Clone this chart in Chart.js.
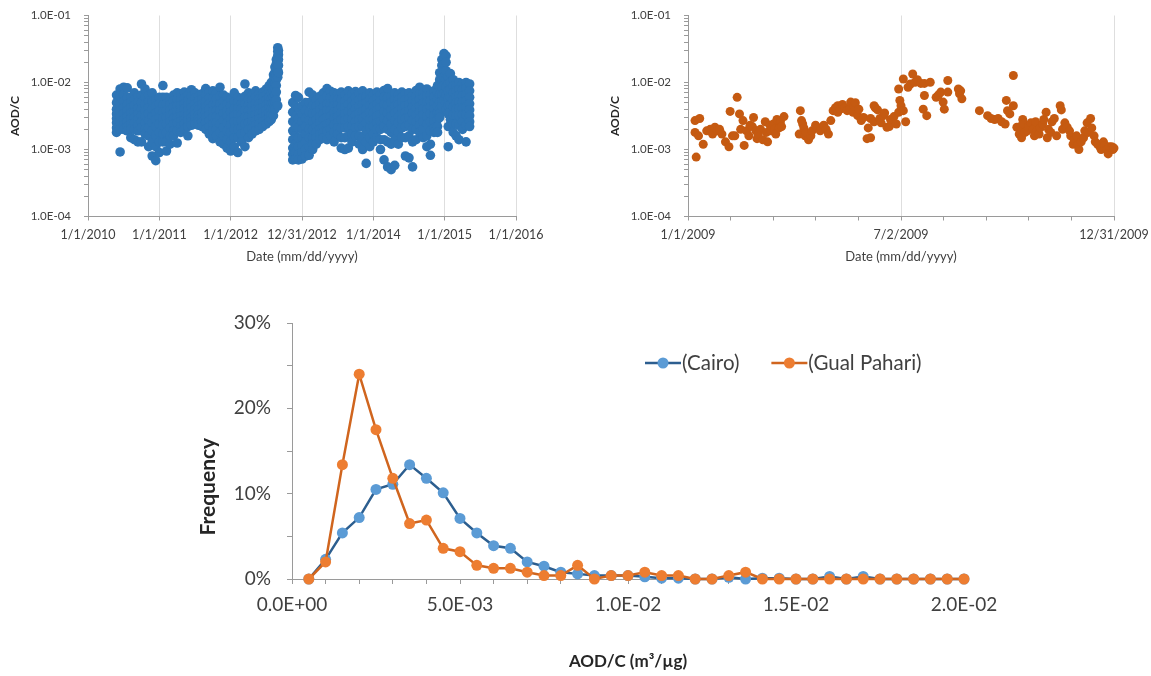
<!DOCTYPE html>
<html lang="en">
<head>
<meta charset="UTF-8">
<title>AOD/C</title>
<script src="https://cdn.jsdelivr.net/npm/chart.js"></script>
<style>
  body { margin: 0; background: #fff; width: 1151px; height: 676px; overflow: hidden; position: relative; }
  canvas { position: absolute; }
</style>
</head>
<body>
<canvas id="cairo_scatter" width="560" height="270" style="left:0;top:0;width:560px;height:270px"></canvas>
<canvas id="gual_scatter" width="551" height="270" style="left:600px;top:0;width:551px;height:270px"></canvas>
<canvas id="freq_chart" width="820" height="376" style="left:180px;top:300px;width:820px;height:376px"></canvas>

<script>
// ---- data ----
// Cairo: decimal year, and AOD/C values (units of 1e-3) observed around that date
const cairoDates = [
  2010.40, 2010.45, 2010.50, 2010.55, 2010.60, 2010.65, 2010.70, 2010.75, 2010.80, 2010.85,
  2010.90, 2010.95, 2011.00, 2011.05, 2011.10, 2011.15, 2011.20, 2011.25, 2011.30, 2011.35,
  2011.40, 2011.45, 2011.50, 2011.55, 2011.60, 2011.65, 2011.70, 2011.75, 2011.80, 2011.85,
  2011.90, 2011.95, 2012.00, 2012.05, 2012.10, 2012.15, 2012.20, 2012.25, 2012.30, 2012.35,
  2012.40, 2012.45, 2012.50, 2012.54, 2012.57, 2012.60, 2012.62, 2012.64, 2012.66, 2012.67,
  2012.87, 2012.91, 2012.95, 2013.00, 2013.05, 2013.10, 2013.15, 2013.20, 2013.25, 2013.30,
  2013.35, 2013.40, 2013.45, 2013.50, 2013.55, 2013.60, 2013.65, 2013.70, 2013.75, 2013.80,
  2013.85, 2013.90, 2013.95, 2014.00, 2014.05, 2014.10, 2014.15, 2014.20, 2014.25, 2014.30,
  2014.35, 2014.40, 2014.45, 2014.50, 2014.55, 2014.60, 2014.65, 2014.70, 2014.75, 2014.80,
  2014.85, 2014.90, 2014.93, 2014.96, 2014.99, 2015.02, 2015.05, 2015.08, 2015.12, 2015.16,
  2015.20, 2015.25, 2015.30, 2015.35
];
const cairoAOD = [
  [6.5, 5.0, 4.0, 3.4, 2.9, 2.5, 2.1, 1.8], [8.0, 6.2, 4.8, 3.8, 3.1, 2.6, 2.0, 0.92],
  [8.5, 6.6, 5.2, 4.2, 3.4, 2.8, 2.3, 2.0], [8.3, 6.0, 4.7, 3.8, 3.1, 2.6, 2.2, 1.9],
  [6.0, 5.0, 4.2, 3.5, 2.9, 2.4, 2.0, 1.5], [7.0, 5.6, 4.5, 3.6, 3.0, 2.5, 2.0, 1.4],
  [6.2, 5.0, 4.1, 3.4, 2.8, 2.3, 1.9, 1.3], [9.5, 6.5, 5.0, 4.0, 3.2, 2.6, 2.1, 1.3],
  [8.0, 6.0, 4.7, 3.8, 3.1, 2.5, 2.0, 1.7], [6.5, 5.2, 4.2, 3.4, 2.7, 2.1, 1.6, 1.1],
  [7.0, 5.2, 4.0, 3.1, 2.5, 1.9, 1.3, 0.8], [5.5, 4.4, 3.5, 2.8, 2.2, 1.6, 1.1, 0.68],
  [6.0, 4.8, 3.8, 3.0, 2.4, 1.8, 1.3, 0.9], [9.0, 6.0, 4.6, 3.6, 2.9, 2.3, 1.7, 1.3],
  [6.0, 4.8, 3.8, 3.0, 2.4, 1.8, 1.3, 0.95], [5.5, 4.7, 3.9, 3.2, 2.6, 2.1, 1.6, 1.2],
  [6.5, 5.3, 4.3, 3.5, 2.9, 2.4, 1.9, 1.6], [7.0, 5.6, 4.5, 3.7, 3.0, 2.5, 1.9, 1.25],
  [6.8, 5.5, 4.5, 3.7, 3.1, 2.6, 2.2, 1.8], [7.2, 5.8, 4.8, 4.0, 3.3, 2.8, 2.4, 2.0],
  [6.5, 5.4, 4.5, 3.8, 3.2, 2.7, 2.2, 1.6], [7.8, 6.2, 5.1, 4.2, 3.5, 3.0, 2.6, 2.3],
  [7.0, 5.8, 4.8, 4.0, 3.4, 2.9, 2.6, 2.4], [6.2, 5.3, 4.5, 3.9, 3.3, 2.9, 2.6, 2.3],
  [6.8, 5.7, 4.8, 4.1, 3.5, 3.0, 2.6, 2.2], [8.1, 6.4, 5.2, 4.3, 3.6, 3.0, 2.5, 2.0],
  [7.2, 5.9, 4.8, 4.0, 3.3, 2.7, 2.2, 1.7], [7.5, 5.8, 4.6, 3.7, 3.0, 2.4, 1.9, 1.45],
  [7.0, 5.7, 4.6, 3.8, 3.1, 2.5, 2.0, 1.6], [8.5, 6.2, 4.8, 3.8, 3.0, 2.4, 1.8, 1.3],
  [6.5, 5.2, 4.2, 3.4, 2.7, 2.1, 1.6, 1.2], [6.0, 4.8, 3.8, 3.1, 2.5, 1.9, 1.4, 1.05],
  [5.5, 4.5, 3.6, 2.9, 2.3, 1.8, 1.3, 0.95], [7.0, 5.2, 4.1, 3.2, 2.6, 2.0, 1.5, 1.1],
  [6.0, 5.0, 4.1, 3.3, 2.6, 2.0, 1.5, 0.9], [5.8, 4.8, 4.0, 3.3, 2.7, 2.1, 1.7, 1.3],
  [9.5, 6.2, 4.8, 3.8, 3.0, 2.4, 1.8, 1.1], [7.0, 5.6, 4.6, 3.8, 3.1, 2.5, 2.0, 1.5],
  [6.5, 5.4, 4.5, 3.7, 3.1, 2.6, 2.1, 1.7], [7.5, 6.0, 4.9, 4.0, 3.3, 2.7, 2.3, 1.9],
  [6.8, 5.7, 4.8, 4.0, 3.4, 2.9, 2.4, 2.0], [7.2, 6.0, 5.0, 4.2, 3.6, 3.0, 2.6, 2.2],
  [8.0, 6.6, 5.5, 4.6, 3.9, 3.3, 2.8, 2.4], [9.0, 7.4, 6.1, 5.0, 4.2, 3.5, 3.0, 2.6],
  [10, 8.4, 7.0, 5.8, 4.8, 4.0, 3.3, 2.8], [13, 11, 9.0, 7.4, 6.0, 4.9, 4.0, 3.2],
  [17, 14, 12, 9.8, 8.0, 6.5, 5.2, 4.0], [22, 19, 16, 13, 11, 9.0, 7.2, 5.5],
  [33, 29, 25, 21, 18, 15, 12, 4.5], [30, 26, 22, 18, 14],
  [5.0, 3.6, 2.6, 1.9, 1.4, 1.05, 0.85, 0.7], [6.4, 4.4, 3.1, 2.2, 1.6, 1.2, 0.9, 0.72],
  [6.0, 4.2, 2.9, 2.1, 1.5, 1.1, 0.85, 0.7], [4.5, 3.4, 2.6, 2.0, 1.5, 1.15, 0.9, 0.72],
  [5.0, 3.8, 2.9, 2.2, 1.7, 1.3, 1.0, 0.8], [7.2, 5.0, 3.6, 2.7, 2.0, 1.5, 1.1, 0.82],
  [6.5, 4.6, 3.4, 2.6, 2.0, 1.5, 1.2, 1.0], [5.5, 4.4, 3.5, 2.8, 2.2, 1.8, 1.5, 1.2],
  [6.2, 4.9, 3.9, 3.1, 2.5, 2.0, 1.7, 1.4], [7.0, 5.5, 4.3, 3.4, 2.8, 2.2, 1.8, 1.5],
  [8.1, 6.2, 4.8, 3.8, 3.0, 2.4, 1.9, 1.4], [7.4, 5.9, 4.7, 3.8, 3.1, 2.5, 2.0, 1.6],
  [7.0, 5.6, 4.5, 3.6, 2.9, 2.3, 1.8, 1.3], [6.8, 5.6, 4.6, 3.8, 3.1, 2.5, 2.1, 1.7],
  [7.2, 5.6, 4.4, 3.5, 2.8, 2.1, 1.5, 1.05], [6.5, 5.2, 4.2, 3.4, 2.7, 2.1, 1.5, 1.0],
  [7.5, 5.9, 4.7, 3.7, 2.9, 2.2, 1.6, 1.05], [6.6, 5.3, 4.3, 3.5, 2.8, 2.2, 1.7, 1.3],
  [7.3, 6.0, 4.9, 4.0, 3.2, 2.6, 2.1, 1.6], [6.8, 5.5, 4.4, 3.5, 2.8, 2.2, 1.6, 1.2],
  [7.5, 5.9, 4.7, 3.7, 2.9, 2.2, 1.5, 1.0], [6.2, 5.0, 4.0, 3.2, 2.5, 1.9, 1.3, 0.62],
  [7.0, 5.6, 4.5, 3.6, 2.8, 2.1, 1.5, 1.1], [6.5, 5.3, 4.3, 3.5, 2.8, 2.2, 1.7, 1.3],
  [7.2, 5.8, 4.7, 3.8, 3.1, 2.5, 2.0, 1.5], [6.6, 5.3, 4.2, 3.3, 2.6, 2.0, 1.4, 1.0],
  [7.6, 6.0, 4.7, 3.7, 2.9, 2.2, 1.4, 0.7], [8.1, 6.0, 4.6, 3.5, 2.7, 2.0, 1.3, 0.55],
  [6.2, 5.0, 3.9, 3.1, 2.4, 1.8, 1.2, 0.5], [7.0, 5.5, 4.4, 3.5, 2.7, 2.0, 1.4, 0.58],
  [6.5, 5.5, 4.6, 3.8, 3.1, 2.5, 1.8, 1.2], [7.2, 6.0, 5.0, 4.1, 3.4, 2.8, 2.1, 1.5],
  [6.8, 5.5, 4.5, 3.6, 2.9, 2.2, 1.5, 0.8], [7.0, 5.7, 4.7, 3.8, 3.0, 2.3, 1.6, 0.75],
  [6.4, 5.3, 4.3, 3.5, 2.7, 2.0, 1.3, 0.55], [7.6, 6.2, 5.0, 4.1, 3.3, 2.6, 2.0, 1.4],
  [8.5, 6.8, 5.5, 4.4, 3.6, 2.9, 2.3, 1.8], [7.0, 5.9, 4.9, 4.0, 3.3, 2.6, 2.0, 1.5],
  [8.0, 6.3, 5.0, 4.0, 3.1, 2.4, 1.6, 1.1], [6.5, 5.3, 4.3, 3.4, 2.6, 1.9, 1.2, 0.82],
  [7.5, 6.0, 4.9, 4.0, 3.2, 2.6, 2.1, 1.8], [9.0, 7.0, 5.5, 4.4, 3.5, 2.8, 2.2, 1.8],
  [14, 11, 8.5, 6.6, 5.1, 4.0, 3.4, 3.0], [22, 18, 14, 11, 8.5, 6.5, 5.2, 4.5],
  [27, 23, 19, 15, 12, 9.0, 7.0, 5.5], [25, 20, 15, 11, 8.5, 6.5, 5.0, 4.0],
  [12, 9.5, 7.5, 5.8, 4.5, 3.4, 2.2, 1.1], [13.6, 10, 7.8, 6.0, 4.6, 3.6, 2.8, 2.2],
  [11, 8.8, 7.0, 5.5, 4.3, 3.3, 2.4, 1.8], [9.0, 7.4, 6.0, 4.9, 4.0, 3.2, 2.4, 1.6],
  [10, 8.0, 6.4, 5.1, 4.1, 3.2, 2.3, 1.4], [9.5, 7.8, 6.3, 5.1, 4.1, 3.3, 2.6, 2.0],
  [10, 8.2, 6.6, 5.3, 4.3, 3.3, 2.3, 1.3], [9.5, 7.5, 6.0, 4.8, 3.9, 3.2, 2.6, 2.2]
];

// Gual Pahari 2009: day of year and AOD/C (units of 1e-3)
const gpDay = [
  6, 10, 6, 9, 7, 13, 16, 19, 21, 23, 25, 27, 29, 32, 35, 36, 38, 40, 42, 44,
  45, 47, 48, 50, 52, 53, 55, 56, 58, 59, 60, 62, 64, 66, 67, 68, 70, 71, 73, 74,
  75, 76, 78, 79, 80, 82,
  95, 96, 97, 98, 99, 100, 101, 103, 105, 106, 109, 111, 113, 116, 118, 120, 122, 124, 126, 128,
  128, 130, 132, 134, 136, 138, 139, 141, 142, 143, 145, 146, 148, 150, 153, 154, 156, 159,
  156, 159, 160, 162, 164, 165, 167, 168, 170, 172, 173, 176, 178, 180, 181, 180, 182, 184, 184, 186,
  188, 190, 192, 194, 196, 199, 202, 202, 201, 204, 207, 212, 214, 216, 218, 219, 222, 222, 231, 232,
  233, 234,
  249, 256, 259, 262, 265, 268, 271, 272, 273, 275, 278, 278, 281, 283, 284, 285, 286, 287, 288, 290,
  291, 293, 295, 296, 297, 298, 300, 301, 303, 304, 306, 307, 308, 310, 311, 313, 315, 318, 319, 320,
  322, 324, 326, 327, 329, 330, 332, 333, 334, 336, 338, 339, 341, 342, 344, 345, 347, 348, 350, 352,
  353, 355, 356, 358, 359, 360, 362, 363, 364
];
const gpAOD = [
  2.7, 2.9, 1.8, 1.6, 0.77, 1.2, 1.9, 2.0, 1.7, 2.15, 1.9, 2.0, 1.7, 1.3, 1.1, 3.7, 1.6, 1.6, 6.0, 3.4,
  2.0, 2.7, 1.15, 1.9, 1.6, 2.3, 2.2, 3.0, 1.9, 1.45, 1.7, 2.0, 1.4, 2.6, 1.8, 1.3, 2.3, 1.9, 2.4, 2.0,
  1.7, 2.8, 2.1, 2.6, 2.2, 3.1,
  1.7, 3.8, 2.7, 2.4, 2.1, 1.6, 1.8, 1.4, 1.6, 1.9, 2.3, 2.1, 1.9, 2.3, 2.0, 1.7, 2.7, 3.8, 4.2, 3.6,
  4.5, 4.0, 4.7, 4.2, 3.8, 4.0, 5.1, 3.6, 4.4, 5.0, 3.2, 4.0, 2.7, 3.0, 1.45, 2.1, 2.9, 2.6,
  1.5, 4.5, 4.2, 3.9, 2.9, 2.5, 3.2, 3.5, 2.15, 2.2, 2.8, 3.1, 2.4, 3.6, 5.4, 8.0, 4.5, 11.3, 3.8, 2.6,
  8.5, 9.5, 13.4, 10.1, 11.0, 9.7, 6.4, 9.7, 4.0, 3.2, 10.1, 6.0, 6.5, 7.2, 5.1, 4.0, 10.7, 7.2, 8.0, 6.8,
  7.5, 5.7,
  3.8, 3.2, 2.9, 2.8, 2.9, 2.6, 2.4, 5.4, 3.8, 3.4, 12.7, 4.5, 2.15, 1.7, 2.2, 1.5, 2.8, 2.4, 1.8, 1.9,
  2.2, 2.5, 2.0, 1.6, 2.6, 1.9, 1.7, 2.1, 2.4, 2.8, 3.6, 1.5, 2.0, 1.8, 2.6, 2.9, 1.6, 4.5, 3.9, 2.0,
  2.5, 2.15, 1.9, 1.6, 1.2, 1.4, 1.6, 1.15, 1.0, 1.3, 1.5, 1.9, 2.5, 1.8, 2.9, 2.1, 1.6, 1.3, 1.2, 1.1,
  1.0, 1.3, 1.15, 1.0, 0.86, 1.1, 1.1, 1.0, 1.05
];

// frequency distribution: bin centres (units of 1e-3 m3/ug) and frequency in %
const binCenters = [
  0.5, 1.0, 1.5, 2.0, 2.5, 3.0, 3.5, 4.0, 4.5, 5.0, 5.5, 6.0, 6.5, 7.0, 7.5, 8.0, 8.5, 9.0, 9.5, 10.0,
  10.5, 11.0, 11.5, 12.0, 12.5, 13.0, 13.5, 14.0, 14.5, 15.0, 15.5, 16.0, 16.5, 17.0, 17.5, 18.0, 18.5, 19.0, 19.5, 20.0
];
const cairoFreq = [
  0, 2.3, 5.4, 7.2, 10.5, 11.1, 13.4, 11.8, 10.1, 7.1, 5.4, 3.9, 3.6, 2.0, 1.5, 0.8, 0.6, 0.4, 0.4, 0.4,
  0.25, 0.1, 0.1, 0, 0, 0.2, 0, 0.1, 0.1, 0, 0, 0.3, 0, 0.3, 0, 0, 0, 0, 0, 0
];
const gualFreq = [
  0, 2.0, 13.4, 24.0, 17.5, 11.8, 6.5, 6.9, 3.6, 3.2, 1.6, 1.25, 1.25, 0.8, 0.4, 0.4, 1.6, 0, 0.4, 0.4,
  0.8, 0.4, 0.4, 0, 0, 0.4, 0.8, 0, 0, 0, 0, 0, 0, 0, 0, 0, 0, 0, 0, 0
];

// axis ticks and labels
const cairoTickYears = [2010, 2011, 2012, 2013, 2014, 2015, 2016];
const cairoTickLabels = ['1/1/2010', '1/1/2011', '1/1/2012', '12/31/2012', '1/1/2014', '1/1/2015', '1/1/2016'];
const gpTickDays = [0, 36.4, 72.8, 109.2, 145.6, 182, 218.4, 254.8, 291.2, 327.6, 364];
const gpTickLabels = ['1/1/2009', '', '', '', '', '7/2/2009', '', '', '', '', '12/31/2009'];
const aodTickLabels = ['1.0E-04', '1.0E-03', '1.0E-02', '1.0E-01'];
const freqXTicks = [0, 1, 2, 3, 4, 5, 6, 7, 8, 9, 10, 11, 12, 13, 14, 15, 16, 17, 18, 19, 20];
const freqXLabels = ['0.0E+00', '', '', '', '', '5.0E-03', '', '', '', '', '1.0E-02', '', '', '', '', '1.5E-02', '', '', '', '', '2.0E-02'];
const freqYTicks = [0, 5, 10, 15, 20, 25, 30];
const freqYLabels = ['0%', '', '10%', '', '20%', '', '30%'];

Chart.defaults.font.family = 'Lato';
Chart.defaults.color = '#404040';
const axisGray = '#9a9a9a';

// log axis: decades plus minor ticks
function logTicks() {
  const t = [];
  [1e-4, 1e-3, 1e-2].forEach(d => { for (let k = 1; k < 10; k++) t.push({ value: k * d }); });
  t.push({ value: 1e-1 });
  return t;
}
function aodLabel(v) {
  const e = Math.log10(v);
  return Math.abs(e - Math.round(e)) < 1e-6 ? aodTickLabels[Math.round(e) + 4] : '';
}

function drawScatter(id, points, color, radius, xTicks, xLabels, rightPad) {
  return new Chart(document.getElementById(id), {
    type: 'scatter',
    data: { datasets: [{ data: points, backgroundColor: color, borderWidth: 0, pointRadius: radius, clip: false }] },
    options: {
      responsive: false, animation: false, events: [],
      layout: { padding: { left: 0, right: rightPad, top: 15.5, bottom: 0 } },
      plugins: { legend: { display: false }, tooltip: { enabled: false } },
      scales: {
        x: {
          type: 'linear', min: xTicks[0], max: xTicks[xTicks.length - 1],
          afterBuildTicks: s => { s.ticks = xTicks.map(v => ({ value: v })); },
          afterFit: s => { s.height = 53.5; s.paddingLeft = 0; s.paddingRight = 0; },
          ticks: { autoSkip: false, maxRotation: 0, padding: 7, font: { size: 12.5 }, callback: (v, i) => xLabels[i] },
          grid: { color: c => xLabels[c.index] ? '#dedede' : 'rgba(0,0,0,0)', tickColor: axisGray, tickLength: 4 },
          border: { color: axisGray },
          title: { display: true, text: 'Date (mm/dd/yyyy)', font: { size: 13 }, padding: { top: 0, bottom: 5 } }
        },
        y: {
          type: 'logarithmic', min: 1e-4, max: 1e-1,
          afterBuildTicks: s => { s.ticks = logTicks(); },
          afterFit: s => { s.width = 88; s.paddingTop = 0; s.paddingBottom = 0; },
          ticks: { autoSkip: false, padding: 13, font: { size: 11.5 }, callback: v => aodLabel(v) },
          grid: { drawOnChartArea: false, tickColor: axisGray, tickLength: 4 },
          border: { color: axisGray },
          title: { display: true, text: 'AOD/C', color: '#262626', font: { size: 12, weight: 'bold' }, padding: { top: 8, bottom: 0 } }
        }
      }
    }
  });
}

const cairoPoints = [];
cairoDates.forEach((d, i) => cairoAOD[i].forEach(v => cairoPoints.push({ x: d, y: v / 1000 })));
const gpPoints = gpDay.map((d, i) => ({ x: d, y: gpAOD[i] / 1000 }));

drawScatter('cairo_scatter', cairoPoints, '#2E75B6', 4.8, cairoTickYears, cairoTickLabels, 44);
drawScatter('gual_scatter', gpPoints, '#C55A11', 4.5, gpTickDays, gpTickLabels, 37);

// legend drawn inside the plot area, line + marker style
const inlineLegend = {
  id: 'inlineLegend',
  afterDatasetsDraw(chart) {
    const ctx = chart.ctx, area = chart.chartArea;
    let x = area.left + 353;
    const y = area.top + 40;
    ctx.save();
    ctx.font = '20.5px Lato';
    ctx.textBaseline = 'middle';
    chart.data.datasets.forEach(ds => {
      ctx.strokeStyle = ds.borderColor;
      ctx.lineWidth = 2.5;
      ctx.beginPath(); ctx.moveTo(x, y); ctx.lineTo(x + 36, y); ctx.stroke();
      ctx.fillStyle = ds.pointBackgroundColor;
      ctx.beginPath(); ctx.arc(x + 18, y, 5.5, 0, 2 * Math.PI); ctx.fill();
      ctx.fillStyle = '#404040';
      ctx.fillText(ds.label, x + 37, y);
      x += 37 + ctx.measureText(ds.label).width + 32;
    });
    ctx.restore();
  }
};

new Chart(document.getElementById('freq_chart'), {
  type: 'line',
  data: {
    datasets: [
      {
        label: '(Cairo)', data: binCenters.map((b, i) => ({ x: b, y: cairoFreq[i] })),
        borderColor: '#2C5E8F', pointBackgroundColor: '#5B9BD5', pointBorderColor: '#5B9BD5',
        pointRadius: 5.5, pointBorderWidth: 0, borderWidth: 2.5, tension: 0, order: 1, clip: false
      },
      {
        label: '(Gual Pahari)', data: binCenters.map((b, i) => ({ x: b, y: gualFreq[i] })),
        borderColor: '#D0651E', pointBackgroundColor: '#ED7D31', pointBorderColor: '#ED7D31',
        pointRadius: 5.5, pointBorderWidth: 0, borderWidth: 2.5, tension: 0, order: 0, clip: false
      }
    ]
  },
  options: {
    responsive: false, animation: false, events: [],
    layout: { padding: { left: 0, right: 36, top: 23, bottom: 0 } },
    plugins: { legend: { display: false }, tooltip: { enabled: false } },
    scales: {
      x: {
        type: 'linear', min: 0, max: 20,
        afterBuildTicks: s => { s.ticks = freqXTicks.map(v => ({ value: v })); },
        afterFit: s => { s.height = 97; s.paddingLeft = 0; s.paddingRight = 0; },
        ticks: { autoSkip: false, maxRotation: 0, padding: 9, font: { size: 19 }, callback: (v, i) => freqXLabels[i] },
        grid: { drawOnChartArea: false, tickColor: axisGray, tickLength: 5 },
        border: { color: axisGray },
        title: { display: true, text: 'AOD/C (m³/µg)', color: '#262626', font: { size: 17, weight: 'bold' }, padding: { top: 0, bottom: 4 } }
      },
      y: {
        min: 0, max: 30,
        afterBuildTicks: s => { s.ticks = freqYTicks.map(v => ({ value: v })); },
        afterFit: s => { s.width = 112; s.paddingTop = 0; s.paddingBottom = 0; },
        ticks: { autoSkip: false, padding: 16, font: { size: 19 }, callback: (v, i) => freqYLabels[i] },
        grid: { drawOnChartArea: false, tickColor: axisGray, tickLength: 5 },
        border: { color: axisGray },
        // trailing spaces push the visible word down, as in the original figure
        title: { display: true, text: 'Frequency              ', color: '#262626', font: { size: 21, weight: 'bold' }, padding: { top: 16, bottom: 0 } }
      }
    }
  },
  plugins: [inlineLegend]
});
</script>
</body>
</html>
